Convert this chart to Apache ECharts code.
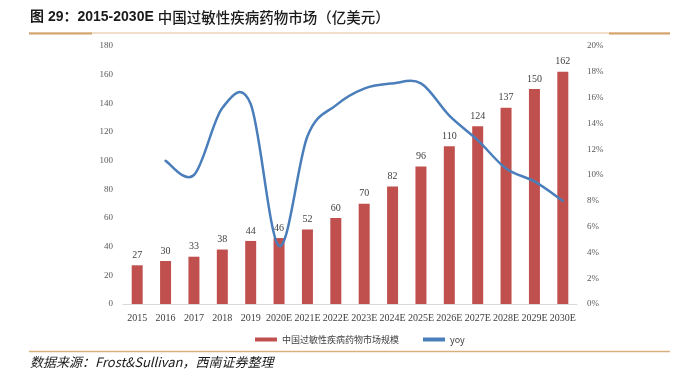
<!DOCTYPE html>
<html><head><meta charset="utf-8">
<script src="https://cdn.jsdelivr.net/npm/echarts@6/dist/echarts.min.js"></script>
<style>html,body{margin:0;padding:0;background:#fff}#c{width:675px;height:372px}</style>
</head><body><div id="c"></div>
<script>
const categories = ['2015','2016','2017','2018','2019','2020E','2021E','2022E','2023E','2024E','2025E','2026E','2027E','2028E','2029E','2030E'];
const marketSize = [27,30,33,38,44,46,52,60,70,82,96,110,124,137,150,162];
const yoy = [null,0.111,0.100,0.152,0.155,0.045,0.130,0.154,0.167,0.171,0.171,0.146,0.127,0.105,0.095,0.080];
const leftTicks = {min:0,max:180,interval:20};
const rightTicks = {min:0,max:0.2,interval:0.02};

const yoyData = [];
yoy.forEach((v,i)=>{ if(v!==null) yoyData.push([i,v]); });

const chart = echarts.init(document.getElementById('c'));
const serif = '"Liberation Serif","DejaVu Serif",serif';
const LINE_COLOR = '#4A7EBB';

function renderYoy(params, api){
  if (params.dataIndex !== yoyData.length - 1) return;
  const pts = yoyData.map(d => api.coord(d));
  const n = pts.length;
  let d = 'M' + pts[0][0] + ' ' + pts[0][1];
  const t = 1/6;
  for (let i = 0; i < n - 1; i++) {
    const p0 = pts[Math.max(i-1,0)], p1 = pts[i], p2 = pts[i+1], p3 = pts[Math.min(i+2,n-1)];
    const c1x = p1[0] + (p2[0]-p0[0])*t, c1y = p1[1] + (p2[1]-p0[1])*t;
    const c2x = p2[0] - (p3[0]-p1[0])*t, c2y = p2[1] - (p3[1]-p1[1])*t;
    d += ' C' + c1x + ' ' + c1y + ' ' + c2x + ' ' + c2y + ' ' + p2[0] + ' ' + p2[1];
  }
  return {type:'path', shape:{pathData:d},
    style:{stroke:LINE_COLOR, lineWidth:2.5, fill:null, lineJoin:'round', lineCap:'round'}};
}

chart.setOption({
  animation:false,
  grid:{left:123,right:98,top:46,bottom:68},
  legend:{
    top:330,left:250,itemGap:24,itemWidth:22,itemHeight:4,
    textStyle:{fontFamily:'"Noto Sans CJK SC"',fontSize:9,color:'#404040'},
    data:[{name:'中国过敏性疾病药物市场规模',icon:'rect',itemStyle:{color:'#C0504D'}},
          {name:'yoy',icon:'rect',itemStyle:{color:LINE_COLOR}}]
  },
  xAxis:{type:'category',data:categories,
    axisLine:{lineStyle:{color:'#d9d9d9',width:1}},axisTick:{show:false},
    axisLabel:{fontFamily:serif,fontSize:10,color:'#404040',margin:9,interval:0}},
  yAxis:[
    {type:'value',min:leftTicks.min,max:leftTicks.max,interval:leftTicks.interval,
      splitLine:{show:false},axisLine:{show:false},axisTick:{show:false},
      axisLabel:{fontFamily:serif,fontSize:9,color:'#595959',margin:10}},
    {type:'value',min:rightTicks.min,max:rightTicks.max,interval:rightTicks.interval,
      splitLine:{show:false},axisLine:{show:false},axisTick:{show:false},
      axisLabel:{fontFamily:serif,fontSize:9,color:'#595959',margin:10,align:'left',
        formatter:v=>Math.round(v*100)+'%'}}
  ],
  series:[
    {name:'中国过敏性疾病药物市场规模',type:'bar',data:marketSize,barWidth:11,
      itemStyle:{color:'#C0504D'},
      label:{show:true,position:'top',distance:5,fontFamily:serif,fontSize:10,color:'#404040'}},
    {name:'yoy',type:'custom',yAxisIndex:1,data:yoyData,renderItem:renderYoy,
      itemStyle:{color:LINE_COLOR},encode:{x:0,y:1},z:3}
  ],
  graphic:[
    {type:'text',left:30,top:10,style:{
      text:'{b|图 29：2015-2030E }{n|中国过敏性疾病药物市场（亿美元）}',
      rich:{
        b:{font:'bold 14px "Liberation Sans","Noto Sans CJK SC"',fill:'#1a1a1a'},
        n:{font:'500 14.5px "Noto Sans CJK SC"',fill:'#1a1a1a'}
      }}},
    {type:'line',shape:{x1:29,y1:33,x2:670,y2:33},style:{stroke:'#E3BE92',lineWidth:1}},
    {type:'line',shape:{x1:29,y1:33.5,x2:92,y2:33.5},style:{stroke:'#D4A26A',lineWidth:2}},
    {type:'line',shape:{x1:609,y1:33.5,x2:670,y2:33.5},style:{stroke:'#D4A26A',lineWidth:2}},
    {type:'line',shape:{x1:29,y1:351.5,x2:670,y2:351.5},style:{stroke:'#D9B07C',lineWidth:1.5}},
    {type:'text',left:30,top:356,style:{text:'数据来源：Frost&Sullivan，西南证券整理',
      font:'italic 13px "Noto Sans CJK SC"',fill:'#1a1a1a'}}
  ]
});
</script></body></html>
